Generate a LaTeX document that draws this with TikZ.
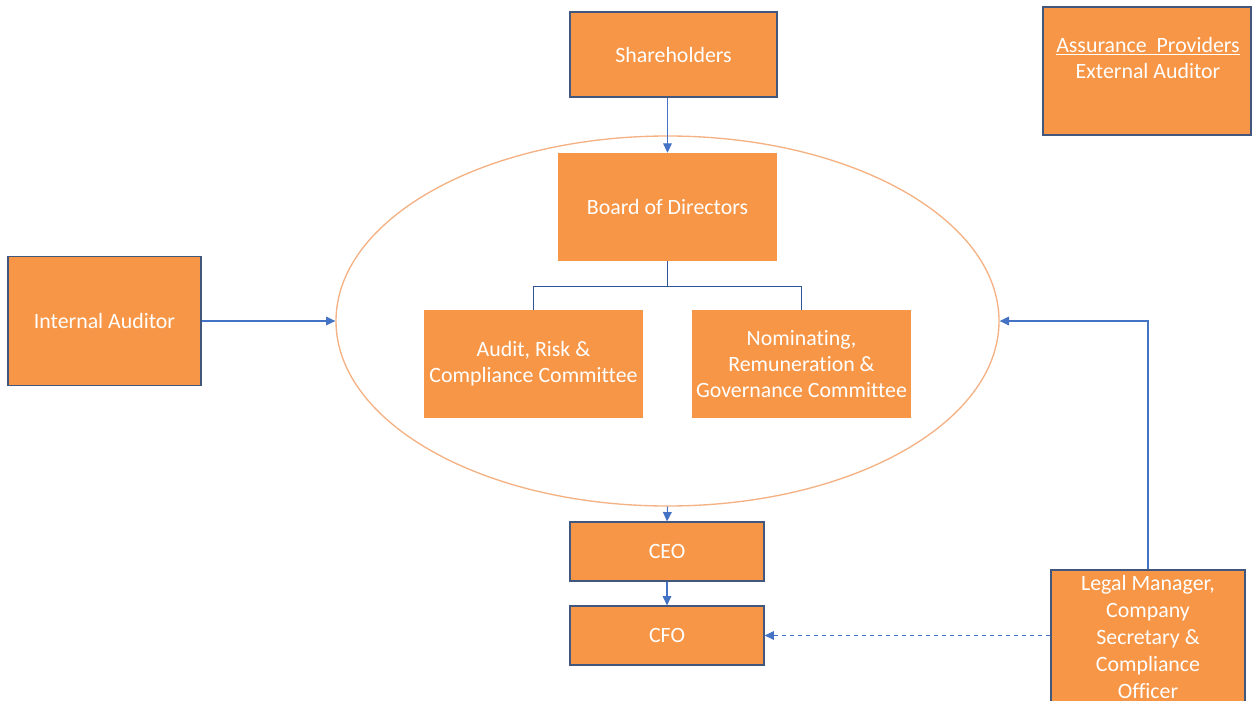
\documentclass[tikz,border=0pt]{standalone}
\usepackage{fontspec}
\setmainfont{Carlito}[Ligatures=CommonOff]
\usepackage{tikz}
\usetikzlibrary{shapes.geometric,arrows.meta}
\definecolor{boxorange}{HTML}{F79646}
\definecolor{boxedge}{HTML}{42577E}
\definecolor{linkblue}{HTML}{4472C4}
\definecolor{treeblue}{HTML}{2F5597}
\definecolor{ringorange}{HTML}{F4B183}

\begin{document}
\begin{tikzpicture}[x=0.75pt,y=-0.75pt,
	  orgbox/.style={fill=boxorange,text=white,align=center,inner sep=0pt,
	    font=\fontsize{16.4}{19.5}\selectfont},
	  edged/.style={orgbox,draw=boxedge,line width=0.9pt},
	  link/.style={linkblue,line width=0.8pt,-{Triangle[length=7pt,width=6.5pt]}}]
	  \useasboundingbox (0,0) rectangle (1252,700);
	  \clip (0,0) rectangle (1252,700);
	  \node[ellipse,draw=ringorange,line width=1pt,inner sep=0pt,
	    minimum width=497.25pt,minimum height=277.5pt] (ring) at (667.5,321) {};
	  \node[edged,minimum width=155.25pt,minimum height=63.75pt] (share) at (673.5,54.5) {Shareholders};
	  \node[edged,minimum width=156pt,minimum height=96pt] (assure) at (1147,71) {};
	  \node[text=white,align=center,font=\fontsize{16.4}{19.5}\selectfont] (assuretext) at (1148,58)
	    {\underline{Assurance\ \ Providers}\\External Auditor};
	  \node[orgbox,minimum width=164.25pt,minimum height=81pt] (board) at (667.5,207) {Board of Directors};
	  \node[orgbox,minimum width=164.25pt,minimum height=81pt] (audit) at (533.5,364)
	    {Audit, Risk \&\\Compliance Committee};
	  \node[orgbox,minimum width=164.25pt,minimum height=81pt] (nomin) at (801.5,364)
	    {Nominating,\\Remuneration \&\\Governance Committee};
	  \node[edged,minimum width=144.75pt,minimum height=96.75pt] (internal) at (104.5,321) {Internal Auditor};
	  \node[edged,minimum width=145.5pt,minimum height=44.25pt] (ceo) at (667,551.5) {CEO};
	  \node[edged,minimum width=145.5pt,minimum height=44.25pt] (cfo) at (667,635.5) {CFO};
	  \node[edged,minimum width=145.5pt,minimum height=100.5pt,font=\fontsize{16.4}{20.25}\selectfont] (legal) at (1148,637)
	    {Legal Manager,\\Company\\Secretary \&\\Compliance\\Officer};
	  \draw[link](share.south -| board.north) -- (board.north);
	  \draw[treeblue,line width=0.9pt](board.south) -- ++(0,25) coordinate (fork);
	  \draw[treeblue,line width=0.9pt](fork) -| (audit.north);
	  \draw[treeblue,line width=0.9pt](fork) -| (nomin.north);
	  \draw[link](internal.east) -- (ring.west);
	  \draw[link](ring.south) -- (ceo.north);
	  \draw[link](ceo) -- (cfo);
	  \draw[link](legal.north) |- (ring.east);
	  \draw[link,dashed](legal.west |- cfo.east) -- (cfo.east);
	\end{tikzpicture}
\end{document}
